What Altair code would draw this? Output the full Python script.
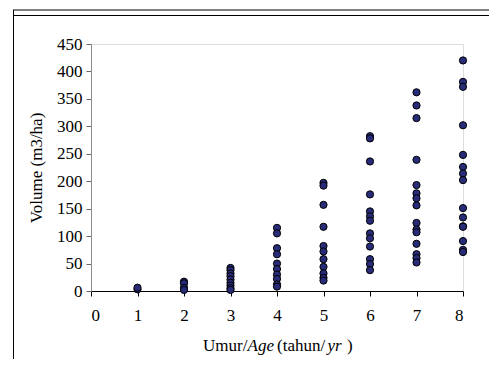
import altair as alt
import pandas as pd

# Data
age_1 = [3, 6]
age_2 = [17, 14, 6, 2]
age_3 = [42, 38, 32, 27, 21, 15, 10, 5, 2]
age_4 = [115, 105, 78, 67, 50, 40, 30, 22, 12, 8]
age_5 = [197, 192, 157, 117, 82, 72, 58, 44, 32, 24, 19]
age_6 = [282, 278, 236, 176, 145, 136, 128, 105, 96, 81, 58, 49, 38]
age_7 = [362, 338, 315, 239, 193, 178, 169, 156, 124, 112, 107, 86, 67, 60, 52]
age_8 = [420, 381, 372, 302, 248, 226, 214, 202, 151, 134, 118, 117, 91, 75, 71]

x_ticks = [0, 1, 2, 3, 4, 5, 6, 7, 8]
y_ticks = [0, 50, 100, 150, 200, 250, 300, 350, 400, 450]

y_title = "Volume (m3/ha)"
x_title_parts = ["Umur/", "Age", "(tahun/", "yr", ")"]
x_title_italic = [False, True, False, True, False]

rows = []
for a, vals in enumerate([age_1, age_2, age_3, age_4, age_5, age_6, age_7, age_8], start=1):
    for v in vals:
        rows.append({"age": a, "volume": v})
df = pd.DataFrame(rows)

FONT = "Liberation Serif"
FS = 17
W, H = 372, 247

points = alt.Chart(df).mark_point(
    filled=True, size=52, fill="#282c78", stroke="#000000", strokeWidth=1, opacity=1
).encode(
    x=alt.X("age:Q", scale=alt.Scale(domain=[0, 8], nice=False),
            axis=alt.Axis(values=x_ticks, title=None, grid=False, domainColor="#000000",
                          tickColor="#000000", tickSize=5, labelPadding=11,
                          labelFontSize=FS, labelFont=FONT, labelColor="#000000",
                          format="d")),
    y=alt.Y("volume:Q", scale=alt.Scale(domain=[0, 450], nice=False),
            axis=alt.Axis(values=y_ticks, title=y_title, grid=False, domainColor="#8a8a8a",
                          tickColor="#666666", tickSize=5, labelPadding=4,
                          labelFontSize=FS, labelFont=FONT, labelColor="#000000",
                          titleFont=FONT, titleFontSize=FS, titleFontWeight="normal",
                          titleColor="#000000", titlePadding=11, format="d")),
)

# x-axis title made of pieces (some italic)
starts = [112, 156.5, 186, 236.5, 256]
title_layers = []
for txt, it, sx in zip(x_title_parts, x_title_italic, starts):
    title_layers.append(
        alt.Chart(pd.DataFrame({"t": [txt]})).mark_text(
            align="left", baseline="middle", font=FONT, fontSize=FS,
            fontStyle="italic" if it else "normal", color="#000000"
        ).encode(text="t:N", x=alt.value(sx), y=alt.value(302))
    )

# decorative frame lines
frame_top1 = alt.Chart(pd.DataFrame({"k": [0]})).mark_rule(color="#000000", strokeWidth=1).encode(
    x=alt.value(-78), x2=alt.value(410), y=alt.value(-34))
frame_top2 = alt.Chart(pd.DataFrame({"k": [0]})).mark_rule(color="#000000", strokeWidth=1).encode(
    x=alt.value(-78), x2=alt.value(410), y=alt.value(-28.5))
frame_left = alt.Chart(pd.DataFrame({"k": [0]})).mark_rule(color="#000000", strokeWidth=1).encode(
    x=alt.value(-77.5), y=alt.value(-34), y2=alt.value(330))

chart = alt.layer(frame_top1, frame_top2, frame_left, points, *title_layers).properties(
    width=W, height=H,
    autosize=alt.AutoSizeParams(type="none"),
    padding={"left": 83, "top": 36, "right": 26, "bottom": 68},
).configure_view(stroke=None).configure(background="#ffffff")

chart.save("out.html", embed_options={"renderer": "svg", "actions": False})
